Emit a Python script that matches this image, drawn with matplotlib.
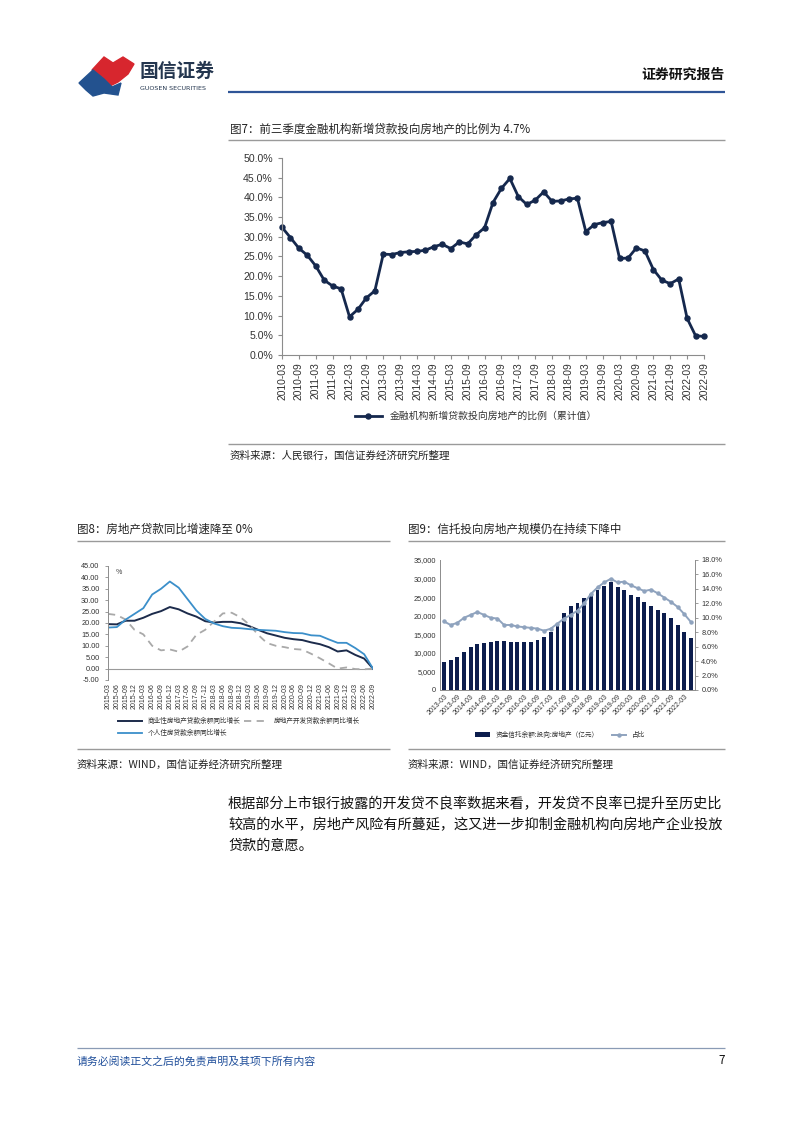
import numpy as np
import matplotlib.pyplot as plt
from matplotlib.patches import Polygon
from matplotlib.ticker import FuncFormatter

plt.rcParams['font.family'] = ['Noto Sans CJK SC', 'DejaVu Sans']

W, H = 802, 1133

# 图7: 金融机构新增贷款投向房地产的比例 (累计值), 2010-03 .. 2022-09 quarterly
quarters7 = [f'{y}-{m}' for y in range(2010, 2023) for m in ('03', '06', '09', '12')][:51]
ratio7 = [32.4, 29.8, 27.1, 25.3, 22.6, 19.0, 17.5, 16.8, 9.7, 11.6,
          14.5, 16.3, 25.6, 25.5, 26.0, 26.2, 26.3, 26.6, 27.5, 28.1,
          27.0, 28.7, 28.2, 30.5, 32.3, 38.7, 42.3, 44.8, 40.2, 38.2,
          39.3, 41.4, 39.0, 39.1, 39.6, 39.8, 31.3, 33.1, 33.6, 33.9,
          24.5, 24.6, 27.2, 26.4, 21.7, 19.0, 18.1, 19.3, 9.3, 4.9, 4.7]

# 图8: 房地产贷款同比, 2015-03 .. 2022-09 quarterly
quarters8 = [f'{y}-{m}' for y in range(2015, 2023) for m in ('03', '06', '09', '12')][:31]
commercial8 = [19.5, 19.4, 21.0, 21.0, 22.3, 24.0, 25.2, 27.0, 26.0, 24.2,
               22.8, 20.8, 20.2, 20.5, 20.5, 19.9, 18.6, 17.0, 15.5, 14.5,
               13.5, 12.9, 12.5, 11.5, 10.7, 9.4, 7.5, 8.0, 6.0, 4.4, 0.0]
developer8 = [24.0, 23.5, 21.5, 17.0, 15.0, 10.0, 8.0, 8.4, 7.4, 9.7,
              14.8, 17.0, 20.6, 24.2, 24.5, 22.5, 19.3, 14.8, 11.2, 10.0,
              9.4, 8.6, 8.3, 6.5, 4.5, 2.3, 0.0, 0.5, -0.2, -0.3, 0.0]
mortgage8 = [18.0, 18.2, 21.5, 24.0, 26.5, 32.5, 35.0, 38.2, 35.5, 30.5,
             25.5, 21.8, 19.8, 18.6, 17.9, 17.7, 17.3, 17.0, 16.8, 16.6,
             16.0, 15.6, 15.5, 14.6, 14.4, 12.8, 11.3, 11.3, 9.0, 6.3, 0.0]
labels8 = ['商业性房地产贷款余额同比增长', '房地产开发贷款余额同比增长', '个人住房贷款余额同比增长']

# 图9: 资金信托投向房地产, 2013-03 .. 2022-06 quarterly
quarters9 = [f'{y}-{m}' for y in range(2013, 2023) for m in ('03', '06', '09', '12')][:38]
trust9 = [7600, 8100, 9000, 10300, 11600, 12500, 12600, 13000, 13300, 13300,
          12900, 12900, 12900, 13000, 13500, 14200, 15600, 17100, 20600, 22700,
          23500, 24900, 25900, 26900, 28000, 29000, 27700, 26900, 25600, 25000,
          23600, 22600, 21600, 20600, 19300, 17500, 15500, 14100]
share9 = [9.5, 9.0, 9.3, 10.0, 10.4, 10.8, 10.4, 10.0, 9.9, 9.0,
          9.0, 8.8, 8.7, 8.6, 8.5, 8.2, 8.5, 9.2, 9.9, 10.4,
          11.0, 12.0, 13.3, 14.2, 14.9, 15.4, 14.9, 15.0, 14.5, 14.1,
          13.7, 13.9, 13.4, 12.8, 12.2, 11.5, 10.5, 9.4]

NAVY = '#15284d'
TXT = '#222222'
AXC = '#8c8c8c'

fig = plt.figure(figsize=(W / 100, H / 100), dpi=100)

# page layer in pixel coords
page = fig.add_axes([0, 0, 1, 1], zorder=-1)
page.set_xlim(0, W)
page.set_ylim(H, 0)
page.axis('off')


def px_axes(l, t, r, b):
    return fig.add_axes([l / W, 1 - b / H, (r - l) / W, (b - t) / H])


def hline(y, x0, x1, color='#9a9a9a', lw=1.0):
    page.plot([x0, x1], [y, y], color=color, lw=lw, solid_capstyle='butt')


# header
page.add_patch(Polygon([(92, 70), (104, 57), (113, 63), (123, 57), (134, 64),
                        (128, 74), (118, 82), (110, 86), (104, 78)],
                       closed=True, color='#d7262e'))
page.add_patch(Polygon([(79, 83), (93, 70), (104, 79), (112, 87), (121, 83),
                        (118, 95), (104, 93), (93, 96), (86, 90)],
                       closed=True, color='#23528f'))
page.text(140, 71, '国信证券', fontsize=13.5, color='#24364f', va='center', fontweight='bold')
page.text(140, 88, 'GUOSEN SECURITIES', fontsize=4.6, color='#24364f', va='center',
          family=['DejaVu Sans'])
page.text(725, 75, '证券研究报告', fontsize=10, color='#111111', ha='right', va='center',
          fontweight='bold')
hline(92, 228, 725, color='#2f5597', lw=1.6)

# ---------- 图7 ----------
page.text(230, 129, '图7：前三季度金融机构新增贷款投向房地产的比例为 4.7%', fontsize=8.3,
          color=TXT, va='center')
hline(140, 228, 725)

ax7 = px_axes(282, 158, 704, 355)
x7 = np.arange(len(ratio7))
ln7, = ax7.plot(x7, ratio7, color=NAVY, lw=2.0, marker='o', markersize=3.6, clip_on=False,
                label='金融机构新增贷款投向房地产的比例（累计值）')
ax7.set_xlim(0, len(ratio7) - 1)
ax7.set_ylim(0, 50)
ax7.set_yticks(np.arange(0, 51, 5))
ax7.yaxis.set_major_formatter(FuncFormatter(lambda v, p: f'{v:.1f}%'))
ax7.set_xticks(x7[::2])
ax7.set_xticklabels(quarters7[::2], rotation=90, fontsize=7.4, color='#333333',
                    family=['Liberation Sans', 'DejaVu Sans'])
ax7.tick_params(axis='y', labelsize=7.6, colors='#333333', length=3, width=0.8, color=AXC)
for t in ax7.get_yticklabels():
    t.set_family(['Liberation Sans', 'DejaVu Sans'])
ax7.tick_params(axis='x', length=3, width=0.8, color=AXC, pad=2)
for s in ('top', 'right'):
    ax7.spines[s].set_visible(False)
for s in ('left', 'bottom'):
    ax7.spines[s].set_color(AXC)
ax7.patch.set_alpha(0)
ax7.legend(handles=[ln7], loc='center', bbox_to_anchor=(476 / W, 1 - 416 / H),
           bbox_transform=fig.transFigure, frameon=False, fontsize=7.1,
           handlelength=2.8, labelcolor='#333333')

hline(444, 228, 725)
page.text(230, 456, '资料来源：人民银行，国信证券经济研究所整理', fontsize=7.6, color=TXT, va='center')

# ---------- 图8 ----------
page.text(77, 529, '图8：房地产贷款同比增速降至 0%', fontsize=8.3, color=TXT, va='center')
hline(541, 77, 390)

ax8 = px_axes(108, 566, 373, 680)
x8 = np.arange(len(quarters8))
l1, = ax8.plot(x8, commercial8, color='#1c2b4b', lw=1.4, label=labels8[0])
l2, = ax8.plot(x8, developer8, color='#a9a9a9', lw=1.3, ls=(0, (4, 3)), label=labels8[1])
l3, = ax8.plot(x8, mortgage8, color='#3b8fca', lw=1.3, label=labels8[2])
ax8.axhline(0, color='#9a9a9a', lw=0.8, zorder=0)
ax8.set_xlim(0, len(quarters8) - 1)
ax8.set_ylim(-5, 45)
ax8.set_yticks(np.arange(-5, 46, 5))
ax8.yaxis.set_major_formatter(FuncFormatter(lambda v, p: f'{v:.2f}'))
ax8.set_xticks(x8)
ax8.set_xticklabels(quarters8, rotation=90, fontsize=5.0, color='#333333',
                    family=['Liberation Sans', 'DejaVu Sans'])
ax8.tick_params(axis='y', labelsize=5.3, colors='#333333', length=2.5, width=0.6, color=AXC)
for t in ax8.get_yticklabels():
    t.set_family(['Liberation Sans', 'DejaVu Sans'])
ax8.tick_params(axis='x', length=0, pad=2)
for s in ('top', 'right', 'bottom'):
    ax8.spines[s].set_visible(False)
ax8.spines['left'].set_color(AXC)
ax8.spines['left'].set_linewidth(0.7)
ax8.patch.set_alpha(0)
ax8.text(0.03, 0.985, '%', transform=ax8.transAxes, fontsize=5, color='#333333', va='top')
ax8.legend(handles=[l1, l3, l2], ncol=2, loc='upper left',
           bbox_to_anchor=(112 / W, 1 - 711 / H), bbox_transform=fig.transFigure,
           frameon=False, fontsize=4.8, handlelength=3.6, columnspacing=0.6,
           labelspacing=0.6, labelcolor='#333333')

hline(749, 77, 390)
page.text(77, 765, '资料来源：WIND，国信证券经济研究所整理', fontsize=7.6, color=TXT, va='center')

# ---------- 图9 ----------
page.text(408, 529, '图9：信托投向房地产规模仍在持续下降中', fontsize=8.3, color=TXT, va='center')
hline(541, 408, 725)

ax9 = px_axes(440, 560, 695, 690)
x9 = np.arange(len(quarters9))
bars = ax9.bar(x9, trust9, width=0.58, color='#0c1d4d', label='资金信托余额:投向:房地产（亿元）')
ax9.set_xlim(-0.6, len(quarters9) - 0.4)
ax9.set_ylim(0, 35000)
ax9.set_yticks(np.arange(0, 35001, 5000))
ax9.yaxis.set_major_formatter(FuncFormatter(lambda v, p: f'{v:,.0f}'))
ax9.set_xticks(x9[::2])
ax9.set_xticklabels(quarters9[::2], rotation=45, ha='right', rotation_mode='anchor',
                    fontsize=5.0, color='#333333', family=['Liberation Sans', 'DejaVu Sans'])
ax9.tick_params(axis='y', labelsize=5.3, colors='#333333', length=0, pad=3)
for t in ax9.get_yticklabels():
    t.set_family(['Liberation Sans', 'DejaVu Sans'])
ax9.tick_params(axis='x', length=0, pad=2)
for s in ('top', 'right'):
    ax9.spines[s].set_visible(False)
for s in ('left', 'bottom'):
    ax9.spines[s].set_color(AXC)
    ax9.spines[s].set_linewidth(0.7)
ax9.patch.set_alpha(0)

ax9r = ax9.twinx()
lr, = ax9r.plot(x9, share9, color='#8fa3be', lw=1.4, marker='o', markersize=2.2,
                clip_on=False, label='占比')
ax9r.set_ylim(0, 18)
ax9r.set_yticks(np.arange(0, 18.1, 2))
ax9r.yaxis.set_major_formatter(FuncFormatter(lambda v, p: f'{v:.1f}%'))
ax9r.tick_params(axis='y', labelsize=5.3, colors='#333333', length=2.5, width=0.6, color=AXC, pad=2)
for t in ax9r.get_yticklabels():
    t.set_family(['Liberation Sans', 'DejaVu Sans'])
for s in ('top', 'left', 'bottom'):
    ax9r.spines[s].set_visible(False)
ax9r.spines['right'].set_color(AXC)
ax9r.spines['right'].set_linewidth(0.7)
ax9r.legend(handles=[bars, lr], ncol=2, loc='center', bbox_to_anchor=(560 / W, 1 - 735 / H),
            bbox_transform=fig.transFigure, frameon=False, fontsize=4.8,
            handlelength=2.2, columnspacing=2.0, labelcolor='#333333')

hline(749, 408, 725)
page.text(408, 765, '资料来源：WIND，国信证券经济研究所整理', fontsize=7.6, color=TXT, va='center')

# body text
body = ['根据部分上市银行披露的开发贷不良率数据来看，开发贷不良率已提升至历史比',
        '较高的水平，房地产风险有所蔓延，这又进一步抑制金融机构向房地产企业投放',
        '贷款的意愿。']
for i, line in enumerate(body):
    page.text(228, 804 + i * 21, line, fontsize=10.2, color='#111111', va='center')

# footer
hline(1048, 77, 725, color='#8a9bb5', lw=0.9)
page.text(77, 1061, '请务必阅读正文之后的免责声明及其项下所有内容', fontsize=7.8,
          color='#1f4e9a', style='italic', va='center')
page.text(725, 1061, '7', fontsize=8.5, color='#111111', ha='right', va='center')

fig.savefig('out.png', dpi=100)
